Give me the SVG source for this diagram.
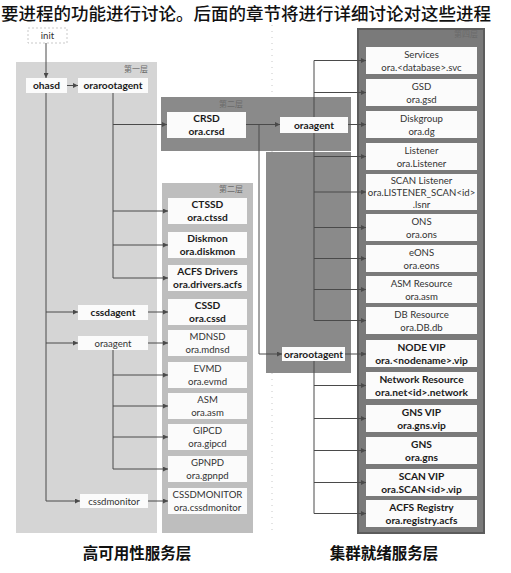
<svg xmlns="http://www.w3.org/2000/svg" width="511" height="573" viewBox="0 0 511 573">
<defs>
<marker id="ah" viewBox="0 0 6 6" refX="6" refY="3" markerWidth="5" markerHeight="5" orient="auto" markerUnits="userSpaceOnUse"><path d="M0,0 L6,3 L0,6 z" fill="#4a4a4a"/></marker>
<style>
.box{fill:#fbfbfb;}
.t{font-family:Lato,"Open Sans",sans-serif;font-size:9.6px;fill:#333;text-anchor:middle;}
.b{font-family:Lato,"Open Sans",sans-serif;font-size:10.2px;font-weight:bold;fill:#1a1a1a;text-anchor:middle;}
.lvl{font-family:"Noto Sans CJK SC",sans-serif;font-size:8px;fill:#6a6a6a;text-anchor:end;}
.cap{font-family:"Noto Sans CJK SC",sans-serif;font-size:15.5px;font-weight:bold;fill:#111;text-anchor:middle;}
.c{fill:none;stroke:#4a4a4a;stroke-width:1;}
.a{marker-end:url(#ah);}
</style>
</defs>
<rect width="511" height="573" fill="#ffffff"/>
<text x="1" y="19.5" font-family="Noto Sans CJK SC, sans-serif" font-size="17.5" font-weight="500" fill="#111">要进程的功能进行讨论。后面的章节将进行详细讨论对这些进程</text>
<line x1="272" y1="25" x2="272" y2="535" stroke="#c8c8c8" stroke-width="1" stroke-dasharray="1 5"/>
<g id="panels">
<rect x="16" y="62" width="141" height="471" fill="#d5d5d5"/>
<text class="lvl" x="148" y="72">第一层</text>
<rect x="162" y="183" width="91" height="350" fill="#bebebe"/>
<text class="lvl" x="243" y="192">第二层</text>
<rect x="161" y="97" width="190" height="54" fill="#8a8a8a"/>
<text class="lvl" x="243" y="107" fill="#555">第二层</text>
<rect x="266" y="152" width="85" height="221" fill="#8a8a8a"/>
<rect x="358" y="29" width="126" height="504" fill="#7a7a7a" stroke="#5c5c5c" stroke-width="2"/>
<text class="lvl" x="478" y="37" fill="#9a9a9a">第四层</text>
</g>
<g id="connectors">
<path class="c a" d="M46,43 V78"/>
<path class="c a" d="M67,85.5 H78"/>
<path class="c" d="M113,93 V278"/>
<path class="c a" d="M113,124.5 H167"/>
<path class="c a" d="M113,211 H168"/>
<path class="c a" d="M113,245 H168"/>
<path class="c a" d="M113,278 H168"/>
<path class="c" d="M46,93 V501"/>
<path class="c a" d="M46,312 H78"/>
<path class="c a" d="M46,343 H78"/>
<path class="c a" d="M46,501 H80"/>
<path class="c a" d="M148,312 H168"/>
<path class="c a" d="M148,343 H168"/>
<path class="c" d="M113,350 V469"/>
<path class="c a" d="M113,375 H168"/>
<path class="c a" d="M113,406 H168"/>
<path class="c a" d="M113,437 H168"/>
<path class="c a" d="M113,469 H168"/>
<path class="c a" d="M148,501 H168"/>
<path class="c a" d="M246,124.5 H280"/>
<path class="c a" d="M259,124.5 V354 H282"/>
<path class="c" d="M314,117 V60.5"/>
<path class="c a" d="M314,60.5 H366"/>
<path class="c a" d="M314,92.5 H366"/>
<path class="c a" d="M348,124.5 H366"/>
<path class="c" d="M314,133 V320.5"/>
<path class="c a" d="M314,156.5 H366"/>
<path class="c a" d="M314,192 H366"/>
<path class="c a" d="M314,227.5 H366"/>
<path class="c a" d="M314,258.5 H366"/>
<path class="c a" d="M314,289.5 H366"/>
<path class="c a" d="M314,320.5 H366"/>
<path class="c a" d="M345,354 H366"/>
<path class="c" d="M314,361 V513.5"/>
<path class="c a" d="M314,385.5 H366"/>
<path class="c a" d="M314,418.5 H366"/>
<path class="c a" d="M314,450.5 H366"/>
<path class="c a" d="M314,482.5 H366"/>
<path class="c a" d="M314,513.5 H366"/>
</g>
<g id="init"><rect x="28" y="28" width="39" height="15" fill="#ffffff" stroke="#bbbbbb" stroke-width="0.8" stroke-dasharray="2 2"/><text class="t" x="47.5" y="39" fill="#666">init</text></g>
<g id="ohasd"><rect class="box" x="26" y="78" width="41" height="15"/><text class="b" x="46.5" y="89">ohasd</text></g>
<g id="orarootagent1"><rect class="box" x="78" y="78" width="70" height="15"/><text class="b" x="113" y="89">orarootagent</text></g>
<g id="cssdagent"><rect class="box" x="78" y="305" width="70" height="15"/><text class="b" x="113" y="316">cssdagent</text></g>
<g id="oraagent1"><rect class="box" x="78" y="336" width="70" height="14"/><text class="t" x="113" y="346.5">oraagent</text></g>
<g id="cssdmonitor"><rect class="box" x="80" y="494" width="68" height="14"/><text class="t" x="114" y="504.5">cssdmonitor</text></g>
<g id="crsd"><rect class="box" x="167" y="112" width="79" height="26"/><text class="b" x="206.5" y="122">CRSD</text><text class="b" x="206.5" y="134.5">ora.crsd</text></g>
<g id="oraagent2"><rect class="box" x="280" y="117" width="68" height="16"/><text class="b" x="314" y="128.5">oraagent</text></g>
<g id="orarootagent2"><rect class="box" x="282" y="347" width="63" height="14"/><text class="b" x="313.5" y="357.5">orarootagent</text></g>
<g id="ctssd"><rect class="box" x="168" y="198" width="79" height="26"/><text class="b" x="207.5" y="208">CTSSD</text><text class="b" x="207.5" y="220.5">ora.ctssd</text></g>
<g id="diskmon"><rect class="box" x="168" y="232" width="79" height="26"/><text class="b" x="207.5" y="242">Diskmon</text><text class="b" x="207.5" y="254.5">ora.diskmon</text></g>
<g id="acfs"><rect class="box" x="168" y="265" width="79" height="26"/><text class="b" x="207.5" y="275">ACFS Drivers</text><text class="b" x="207.5" y="287.5">ora.drivers.acfs</text></g>
<g id="cssd"><rect class="box" x="168" y="299" width="79" height="26"/><text class="b" x="207.5" y="309">CSSD</text><text class="b" x="207.5" y="321.5">ora.cssd</text></g>
<g id="mdnsd"><rect class="box" x="168" y="330" width="79" height="26"/><text class="t" x="207.5" y="340">MDNSD</text><text class="t" x="207.5" y="352.5">ora.mdnsd</text></g>
<g id="evmd"><rect class="box" x="168" y="362" width="79" height="26"/><text class="t" x="207.5" y="372">EVMD</text><text class="t" x="207.5" y="384.5">ora.evmd</text></g>
<g id="asm"><rect class="box" x="168" y="393" width="79" height="26"/><text class="t" x="207.5" y="403">ASM</text><text class="t" x="207.5" y="415.5">ora.asm</text></g>
<g id="gipcd"><rect class="box" x="168" y="424" width="79" height="26"/><text class="t" x="207.5" y="434">GIPCD</text><text class="t" x="207.5" y="446.5">ora.gipcd</text></g>
<g id="gpnpd"><rect class="box" x="168" y="456" width="79" height="26"/><text class="t" x="207.5" y="466">GPNPD</text><text class="t" x="207.5" y="478.5">ora.gpnpd</text></g>
<g id="cssdmon2"><rect class="box" x="168" y="488" width="79" height="26"/><text class="t" x="207.5" y="498">CSSDMONITOR</text><text class="t" x="207.5" y="510.5">ora.cssdmonitor</text></g>
<g id="services"><rect class="box" x="366" y="47" width="111" height="27"/><text class="t" x="421.5" y="57.5">Services</text><text class="t" x="421.5" y="70.5">ora.&lt;database&gt;.svc</text></g>
<g id="gsd"><rect class="box" x="366" y="79" width="111" height="27"/><text class="t" x="421.5" y="89.5">GSD</text><text class="t" x="421.5" y="102.5">ora.gsd</text></g>
<g id="diskgroup"><rect class="box" x="366" y="111" width="111" height="27"/><text class="t" x="421.5" y="121.5">Diskgroup</text><text class="t" x="421.5" y="134.5">ora.dg</text></g>
<g id="listener"><rect class="box" x="366" y="143" width="111" height="27"/><text class="t" x="421.5" y="153.5">Listener</text><text class="t" x="421.5" y="166.5">ora.Listener</text></g>
<g id="scanlistener"><rect class="box" x="366" y="174" width="111" height="36"/><text class="t" x="421.5" y="183.5">SCAN Listener</text><text class="t" x="421.5" y="195.5" font-size="8.8">ora.LISTENER_SCAN&lt;id&gt;</text><text class="t" x="421.5" y="207.5">.lsnr</text></g>
<g id="ons"><rect class="box" x="366" y="214" width="111" height="27"/><text class="t" x="421.5" y="224.5">ONS</text><text class="t" x="421.5" y="237.5">ora.ons</text></g>
<g id="eons"><rect class="box" x="366" y="245" width="111" height="27"/><text class="t" x="421.5" y="255.5">eONS</text><text class="t" x="421.5" y="268.5">ora.eons</text></g>
<g id="asmres"><rect class="box" x="366" y="276" width="111" height="27"/><text class="t" x="421.5" y="286.5">ASM Resource</text><text class="t" x="421.5" y="299.5">ora.asm</text></g>
<g id="dbres"><rect class="box" x="366" y="307" width="111" height="27"/><text class="t" x="421.5" y="317.5">DB Resource</text><text class="t" x="421.5" y="330.5">ora.DB.db</text></g>
<g id="nodevip"><rect class="box" x="366" y="340" width="111" height="27"/><text class="b" x="421.5" y="350.5">NODE VIP</text><text class="b" x="421.5" y="363.5">ora.&lt;nodename&gt;.vip</text></g>
<g id="network"><rect class="box" x="366" y="372" width="111" height="27"/><text class="b" x="421.5" y="382.5">Network Resource</text><text class="b" x="421.5" y="395.5">ora.net&lt;id&gt;.network</text></g>
<g id="gnsvip"><rect class="box" x="366" y="405" width="111" height="27"/><text class="b" x="421.5" y="415.5">GNS VIP</text><text class="b" x="421.5" y="428.5">ora.gns.vip</text></g>
<g id="gns"><rect class="box" x="366" y="437" width="111" height="27"/><text class="b" x="421.5" y="447.5">GNS</text><text class="b" x="421.5" y="460.5">ora.gns</text></g>
<g id="scanvip"><rect class="box" x="366" y="469" width="111" height="27"/><text class="b" x="421.5" y="479.5">SCAN VIP</text><text class="b" x="421.5" y="492.5">ora.SCAN&lt;id&gt;.vip</text></g>
<g id="acfsreg"><rect class="box" x="366" y="500" width="111" height="27"/><text class="b" x="421.5" y="510.5">ACFS Registry</text><text class="b" x="421.5" y="523.5">ora.registry.acfs</text></g>
<g id="captions">
<text class="cap" x="137" y="559">高可用性服务层</text>
<text class="cap" x="384" y="559">集群就绪服务层</text>
</g>
</svg>
